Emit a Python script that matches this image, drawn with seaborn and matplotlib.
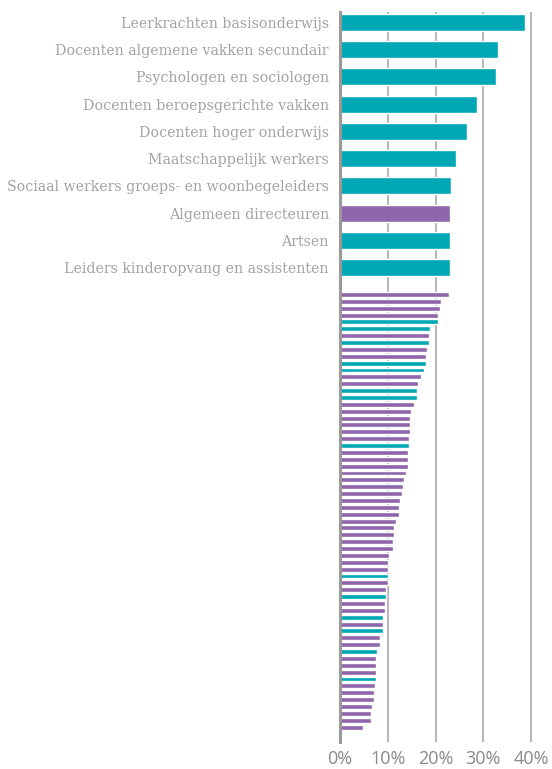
import matplotlib
matplotlib.use("Agg")
import matplotlib.pyplot as plt
import seaborn as sns
import pandas as pd
from matplotlib.ticker import FuncFormatter

# ---- data ----
top_labels = [
    "Leerkrachten basisonderwijs",
    "Docenten algemene vakken secundair",
    "Psychologen en sociologen",
    "Docenten beroepsgerichte vakken",
    "Docenten hoger onderwijs",
    "Maatschappelijk werkers",
    "Sociaal werkers groeps- en woonbegeleiders",
    "Algemeen directeuren",
    "Artsen",
    "Leiders kinderopvang en assistenten",
]
top_values = [38.7, 33.0, 32.6, 28.7, 26.6, 24.3, 23.2, 23.0, 23.0, 23.0]
top_groups = ["T", "T", "T", "T", "T", "T", "T", "P", "T", "T"]

rest_values = [
    22.8, 21.1, 20.9, 20.5, 20.5, 18.8, 18.6, 18.6, 18.2, 18.0,
    18.0, 17.6, 17.0, 16.3, 16.1, 16.1, 15.5, 14.9, 14.7, 14.7,
    14.7, 14.5, 14.5, 14.2, 14.2, 14.2, 13.8, 13.4, 13.2, 13.0,
    12.6, 12.4, 12.4, 11.8, 11.4, 11.4, 11.2, 11.2, 10.3, 10.1,
    10.1, 10.1, 10.1, 9.7, 9.7, 9.4, 9.4, 9.0, 9.0, 9.0,
    8.4, 8.4, 7.7, 7.5, 7.5, 7.5, 7.5, 7.3, 7.1, 7.1,
    6.7, 6.5, 6.5, 4.9,
]
rest_groups = [
    "P", "P", "P", "P", "T", "T", "P", "T", "P", "P",
    "T", "T", "P", "P", "T", "T", "P", "P", "P", "P",
    "P", "P", "T", "P", "P", "P", "P", "P", "P", "P",
    "P", "P", "P", "P", "P", "P", "P", "P", "P", "P",
    "P", "T", "P", "P", "T", "P", "P", "T", "P", "T",
    "P", "P", "T", "P", "P", "P", "T", "P", "P", "P",
    "P", "P", "P", "P",
]
x_ticks = [0, 10, 20, 30, 40]

palette = {"T": "#00a8b5", "P": "#8f66ab"}

df_top = pd.DataFrame({"label": top_labels, "value": top_values, "group": top_groups})
df_rest = pd.DataFrame({"label": [f"r{i}" for i in range(len(rest_values))],
                        "value": rest_values, "group": rest_groups})

sns.set_style("white")

W, H = 552, 769
fig = plt.figure(figsize=(W / 100, H / 100), dpi=100)

x0 = 340
xmax = 41
px_per = 4.775
right = x0 + xmax * px_per
top_y0, split_y, bot_y1 = 12, 284, 742

ax_top = fig.add_axes([x0 / W, 1 - split_y / H, (right - x0) / W, (split_y - top_y0) / H])
ax_bot = fig.add_axes([x0 / W, 1 - bot_y1 / H, (right - x0) / W, (bot_y1 - split_y) / H])

sns.barplot(data=df_top, y="label", x="value", hue="group", palette=palette,
            dodge=False, legend=False, width=0.625, ax=ax_top, saturation=1)
sns.barplot(data=df_rest, y="label", x="value", hue="group", palette=palette,
            dodge=False, legend=False, width=0.72, ax=ax_bot, saturation=1)

ax_top.set_ylim(9.606, -0.386)
ax_bot.set_ylim(65.18, -1.53)

for ax in (ax_top, ax_bot):
    ax.set_xlim(0, xmax)
    ax.set_xticks(x_ticks)
    ax.set_xlabel("")
    ax.set_ylabel("")
    ax.grid(axis="x", color="#b8b8b8", linewidth=1.5)
    ax.grid(axis="y", visible=False)
    ax.set_axisbelow(True)
    for s in ("top", "right", "bottom"):
        ax.spines[s].set_visible(False)
    ax.spines["left"].set_color("#999999")
    ax.spines["left"].set_linewidth(2.2)
    ax.tick_params(length=0)

ax_top.tick_params(axis="x", labelbottom=False)
ax_top.tick_params(axis="y", pad=8)
for t in ax_top.get_yticklabels():
    t.set_fontfamily("DejaVu Serif")
    t.set_fontsize(10.2)
    t.set_color("#a3a3a3")

ax_bot.set_yticks([])
ax_bot.xaxis.set_major_formatter(FuncFormatter(lambda v, p: f"{int(v)}%"))
ax_bot.tick_params(axis="x", pad=6)
for t in ax_bot.get_xticklabels():
    t.set_fontfamily("Open Sans")
    t.set_fontsize(13)
    t.set_color("#8a8a8a")

fig.savefig("out.png", dpi=100)
